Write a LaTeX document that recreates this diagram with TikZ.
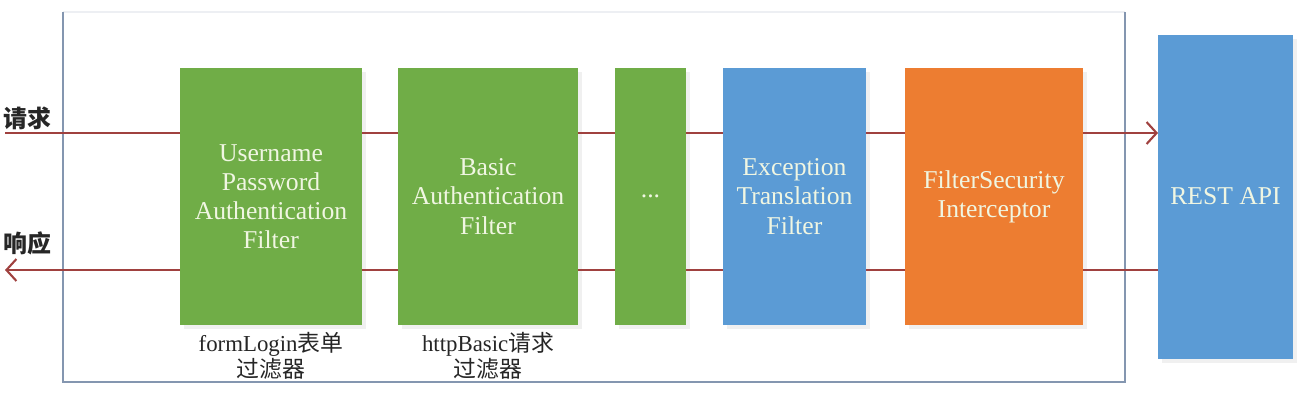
\documentclass[tikz,border=0pt]{standalone}
\usepackage{fontspec}
\setmainfont{Liberation Serif}
\newfontfamily\cjk{Noto Sans CJK SC}
\usetikzlibrary{positioning, arrows.meta, shadows}

\definecolor{filtergreen}{RGB}{112,173,71}
\definecolor{filterblue}{RGB}{91,155,213}
\definecolor{filterorange}{RGB}{237,125,49}
\definecolor{wirered}{RGB}{160,65,63}
\definecolor{framegray}{RGB}{132,150,176}
\definecolor{boxtext}{RGB}{240,246,226}

\begin{document}
\begin{tikzpicture}[
    > = {Straight Barb[length=1mm, width=2.2mm]},
    wire/.style={draw=wirered, line width=0.6pt},
    filter/.style={rectangle, minimum height=2.57cm, inner sep=0pt, outer sep=0pt, align=center, text=boxtext,
        font=\fontsize{7.3}{8.3}\selectfont,
        drop shadow={opacity=0.12, shadow xshift=0.4mm, shadow yshift=-0.4mm}},
    note/.style={align=center, inner sep=0pt, text=black!85, font=\fontsize{6.5}{7.4}\selectfont},
    side/.style={anchor=west, inner sep=0pt, text=black!85, font=\fontsize{6.8}{7}\selectfont\cjk\bfseries}
]
    \useasboundingbox (0,0) rectangle (13.16,4);
    % frame round the filter chain
    \draw[framegray!15, line width=0.5pt] (0.63,3.88) -- (11.25,3.88);
    \draw[framegray, line width=0.5pt] (0.63,3.88) -- (0.63,0.18) -- (11.25,0.18) -- (11.25,3.88);

    \node[filter, fill=filtergreen, minimum width=1.82cm] (upf) at (2.71,2.035) {Username\\Password\\Authentication\\Filter};
    \node[filter, fill=filtergreen, minimum width=1.80cm, right=0.36cm of upf] (baf) {Basic\\Authentication\\Filter};
    \node[filter, fill=filtergreen, minimum width=0.71cm, right=0.37cm of baf] (more) {...};
    \node[filter, fill=filterblue, minimum width=1.43cm, right=0.37cm of more] (etf) {Exception\\Translation\\Filter};
    \node[filter, fill=filterorange, minimum width=1.78cm, right=0.39cm of etf] (fsi) {FilterSecurity\\Interceptor};
    \node[filter, fill=filterblue, minimum width=1.35cm, minimum height=3.24cm, right=0.75cm of fsi] (api) {REST API};

    % request and response wires
    \coordinate (reqin) at (0.05,2.67);
    \coordinate (resout) at (0.05,1.30);
    \draw[wire] (reqin) -- (upf.west |- reqin);
    \foreach \a/\b in {upf/baf, baf/more, more/etf, etf/fsi} {
        \draw[wire] (\a.east |- reqin) -- (\b.west |- reqin);
        \draw[wire] (\a.east |- resout) -- (\b.west |- resout);
    }
    \draw[wire, ->] (fsi.east |- reqin) -- (api.west |- reqin);
    \draw[wire] (api.west |- resout) -- (fsi.east |- resout);
    \draw[wire, ->] (upf.west |- resout) -- (resout);

    \node[side] (req) at (0.03,2.82) {请求};
    \node[side] (res) at (0.03,1.57) {响应};
    \node[note, below=0.07cm of upf] (upfnote) {formLogin{\cjk 表单}\\{\cjk 过滤器}};
    \node[note, below=0.07cm of baf] (bafnote) {httpBasic{\cjk 请求}\\{\cjk 过滤器}};
\end{tikzpicture}
\end{document}
